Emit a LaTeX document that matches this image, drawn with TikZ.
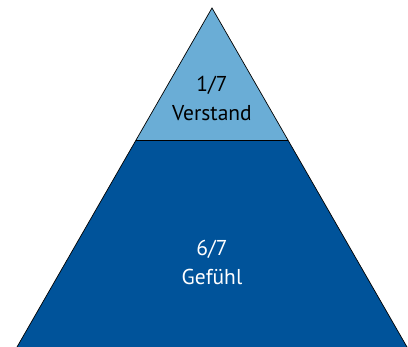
\documentclass[tikz,border=0pt]{standalone}
\usepackage{fontspec}
\setmainfont{PT Sans}
\definecolor{topblue}{HTML}{6AADD6}
\definecolor{basblue}{HTML}{00539A}
\begin{document}
\begin{tikzpicture}[x=1pt,y=-1pt,
  layer/.style={draw=black,line width=0.7pt,line join=miter},
  lbl/.style={font=\fontsize{21.5}{29}\selectfont,align=center,inner sep=0pt}]
\useasboundingbox (0,0) rectangle (408,347);
% corner points
\coordinate (apex) at (212,8);
\coordinate (bl) at (17,347);
\coordinate (br) at (407,347);
\coordinate (ml) at (136.1,140);
\coordinate (mr) at (287.9,140);
% lower band
\fill[basblue] (ml) -- (mr) -- (br) -- (bl) -- cycle;
% upper tip
\fill[topblue] (apex) -- (mr) -- (ml) -- cycle;
\draw[layer] (bl) -- (apex) -- (br);
\draw[layer] (ml) -- (mr);
% labels
\node[lbl,text=black] (t1) at (212,98) {1/7\\Verstand};
\node[lbl,text=white] (t2) at (212,262) {6/7\\Gefühl};
\end{tikzpicture}
\end{document}
